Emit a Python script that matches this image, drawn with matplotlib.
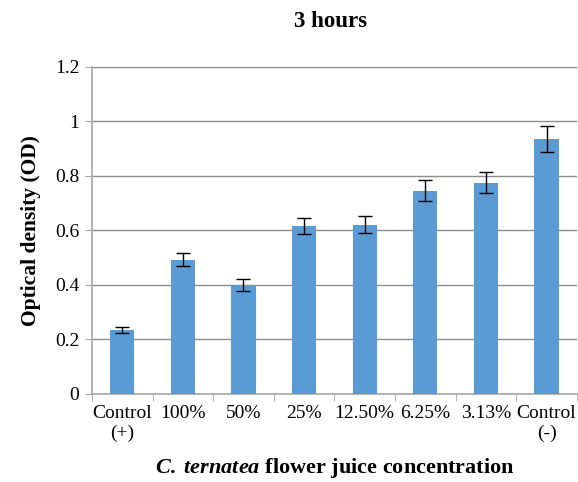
import matplotlib
matplotlib.use("Agg")
import matplotlib.pyplot as plt
import numpy as np

categories = ["Control\n(+)", "100%", "50%", "25%", "12.50%", "6.25%", "3.13%", "Control\n(-)"]
od_values = [0.235, 0.493, 0.399, 0.616, 0.621, 0.746, 0.775, 0.935]
od_errors = [0.012, 0.024, 0.021, 0.030, 0.032, 0.038, 0.039, 0.047]
y_ticks = [0, 0.2, 0.4, 0.6, 0.8, 1, 1.2]
y_labels = ["0", "0.2", "0.4", "0.6", "0.8", "1", "1.2"]

plt.rcParams['font.family'] = ['Liberation Serif', 'DejaVu Serif']
plt.rcParams['mathtext.fontset'] = 'custom'
plt.rcParams['mathtext.rm'] = 'Liberation Serif:bold'
plt.rcParams['mathtext.it'] = 'Liberation Serif:italic:bold'
plt.rcParams['mathtext.bf'] = 'Liberation Serif:bold'

fig = plt.figure(figsize=(5.78, 4.82), dpi=100)
ax = fig.add_axes([0.159, 0.183, 0.839, 0.678])

x = np.arange(len(categories))
ax.bar(x, od_values, width=0.4, color="#5b9bd5", zorder=3)
ax.errorbar(x, od_values, yerr=od_errors, fmt="none", ecolor="black",
            elinewidth=1, capsize=5, capthick=1, zorder=4)

ax.set_xlim(-0.5, len(categories) - 0.5)
ax.set_ylim(0, 1.2)
ax.set_yticks(y_ticks)
ax.set_yticklabels(y_labels, fontsize=14)
ax.yaxis.grid(True, color="#8c8c8c", linewidth=1, zorder=0)

# category labels between boundary ticks
ax.set_xticks(x)
ax.set_xticklabels(categories, fontsize=14)
ax.tick_params(axis="x", length=0, pad=8)
ax.set_xticks(np.arange(len(categories) + 1) - 0.5, minor=True)
ax.tick_params(axis="x", which="minor", length=5, color="#a6a6a6")
ax.tick_params(axis="y", length=5, color="#a6a6a6", pad=4)

for side in ["top", "right"]:
    ax.spines[side].set_visible(False)
for side in ["left", "bottom"]:
    ax.spines[side].set_color("#a6a6a6")
    ax.spines[side].set_linewidth(1.2)

ax.set_ylabel("Optical density (OD)", fontsize=15.5, fontweight="bold", labelpad=10)
ax.set_xlabel(r"$\mathit{C.\;ternatea}$ flower juice concentration", fontsize=16,
              fontweight="bold", labelpad=10)
fig.text(0.571, 0.955, "3 hours", fontsize=16.5, fontweight="bold", ha="center", va="center")

fig.savefig("out.png", dpi=100)
